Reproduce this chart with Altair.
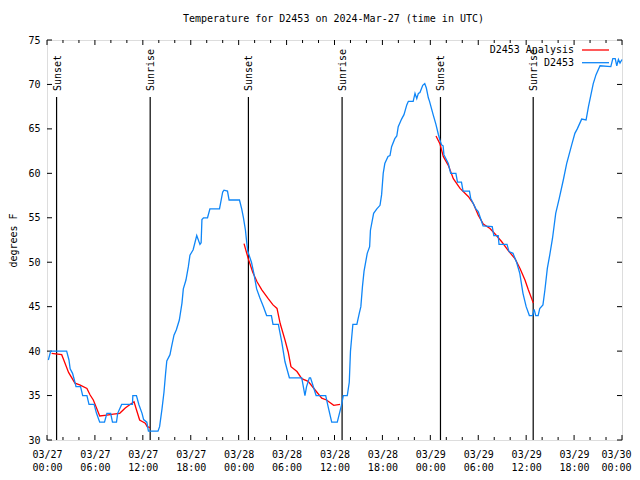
import altair as alt
import pandas as pd

BASE_MS = 1711497600000  # 2024-03-27 00:00 UTC
HOUR_MS = 3600000
FONT = "DejaVu Sans Mono"

TITLE = "Temperature for D2453 on 2024-Mar-27 (time in UTC)"

# Observations (hours since 2024-03-27 00:00 UTC, degrees F)
obs_hours = [0.17, 0.46, 2.46, 2.75, 2.9, 3.2, 3.35, 3.5, 3.63, 4.2, 4.47, 5.0, 5.26, 5.9,
             6.2, 6.6, 7.2, 7.5, 7.97, 8.2, 8.7, 8.85, 9.35, 10.7, 10.75, 11.2, 11.5, 11.9,
             12.1, 12.5, 12.7, 13.9, 14.1, 14.4, 14.65, 14.85, 15.0, 15.4, 15.6, 15.9, 16.2,
             16.57, 16.9, 17.07, 17.4, 17.7, 17.9, 18.3, 18.75, 19.15, 19.3, 19.4, 19.6, 20.1,
             20.4, 21.6, 22.0, 22.16, 22.6, 22.8, 24.1,
             24.38, 24.6, 24.85, 25.0, 25.15, 25.6, 25.9, 26.25, 26.65, 27.1, 27.5, 28.1, 28.3,
             28.97, 29.4, 29.8, 30.35, 31.9, 32.3, 32.5, 32.85, 33.0, 33.7, 34.9, 35.2, 35.65,
             36.35, 36.9, 37.1, 37.6, 37.85, 38.0, 38.15, 38.3, 38.8, 39.1, 39.3, 39.5, 39.7,
             40.1, 40.4, 40.5, 40.9, 41.3, 41.7, 41.9, 42.1, 42.3, 42.7, 42.95, 43.15, 43.55,
             43.8, 43.98, 44.4, 44.7, 45.05, 45.25, 45.85, 46.08, 46.3, 46.5, 46.7, 47.05,
             47.3, 47.5, 47.75, 47.9, 48.35, 48.7, 49.0, 49.2, 49.4, 49.6, 49.7, 50.25, 50.55,
             51.2, 51.4, 51.9, 52.1, 52.9, 53.05, 53.7, 54.0, 54.6, 55.75, 55.95, 56.5, 56.6,
             57.6, 57.85, 58.35, 58.8, 59.2, 59.6, 60.0, 60.4, 60.8, 61.0, 61.2, 61.5, 61.7,
             62.1, 62.35, 62.65, 62.95, 63.3, 63.7, 64.15, 64.65, 65.07, 65.7, 66.1, 66.4,
             66.95, 67.5, 67.8, 68.1, 68.4, 68.75, 69.25, 70.6, 70.85, 71.15, 71.35, 71.55,
             71.75, 72.0]
obs_temps = [39, 40, 40, 39, 38, 37.5, 37, 36.5, 36, 36, 35, 35, 34, 34,
             33, 32, 32, 33, 33, 32, 32, 33, 34, 34, 35, 35, 34, 33,
             32.3, 32, 31, 31, 31.5, 33.5, 35.4, 37.5, 38.9, 39.6, 40.5, 41.8, 42.4,
             43.5, 45.4, 47, 48, 49.5, 50.8, 51.4, 53, 52, 52.2, 54.8, 55, 55,
             56, 56, 57.9, 58.1, 58, 57, 57,
             56, 55, 53.6, 52.3, 51.2, 50, 48.75, 47, 46, 45, 44, 44, 43,
             43, 41, 38.8, 37, 37, 35, 36, 37, 37, 35, 35, 33.75, 32,
             32, 34, 35, 35, 36.5, 40, 41.5, 43, 43, 44.25, 45, 47.25, 49,
             51, 51.75, 53.6, 55.5, 56, 56.4, 57.6, 60, 61.1, 61.9, 62, 63, 63.9,
             64.2, 65.25, 66.1, 66.6, 67.7, 68.1, 68.1, 69, 68.4, 69, 69.1, 69.9,
             70.1, 69.6, 68.5, 68.1, 66.6, 65.5, 64.4, 63.75, 63.2, 63.1, 62.1, 61.1, 60,
             60, 59, 59, 58, 58, 57.2, 56, 55.7, 54.1, 54, 53, 53, 52,
             52, 51.2, 51, 50, 48.75, 46.5, 45, 44, 44, 44.7, 44, 44, 44.8,
             45.2, 46.9, 49.3, 50.8, 52.7, 55.5, 57.2, 59.25, 61.1, 63.2, 64.5, 65,
             66.1, 66, 67.5, 68.8, 70.1, 71.1, 72.1, 72, 72.9, 72.9, 72.1, 72.8,
             72.4, 72.8]

# Analysis (night segments)
ana_night = [1] * 22 + [2] * 20 + [3] * 19
ana_hours = [0.58, 1.84, 2.1, 2.7, 3.5, 4.1, 5.0, 5.4, 5.8, 6.2, 6.6, 7.5, 8.3, 9.1, 9.8,
             10.4, 10.9, 11.2, 11.6, 12.3, 12.55, 12.9,
             24.67, 25.2, 25.75, 26.3, 26.9, 27.7, 28.3, 28.8, 29.2, 29.8, 30.2, 30.55, 31.3,
             31.9, 32.7, 33.6, 34.4, 35.0, 35.9, 36.7,
             48.71, 49.21, 49.62, 50.25, 50.88, 51.72, 52.75, 53.38, 54.0, 54.63, 55.47,
             56.22, 56.94, 57.76, 58.6, 59.23, 59.85, 60.27, 60.9]
ana_temps = [39.75, 39.6, 39, 37.6, 36.4, 36.2, 35.8, 35.06, 34.5, 33.6, 32.7, 32.8, 32.9,
             33, 33.6, 34, 34.3, 33.4, 32.25, 31.9, 31.5, 31.4,
             52.1, 50.4, 48.9, 47.8, 46.9, 45.9, 45.2, 44.8, 43.1, 41.25, 39.9, 38.25, 37.7,
             36.9, 36.6, 35.6, 34.7, 34.5, 33.9, 34.0,
             64.2, 63.3, 61.9, 60.9, 59.4, 58.3, 57.4, 56.6, 55.3, 54.3, 53.8, 53.06, 52.3,
             51.3, 50.4, 49.3, 48.0, 46.9, 45.4]

event_hours = [1.2, 12.92, 25.22, 36.95, 49.27, 60.88]
event_labels = ["Sunset", "Sunrise", "Sunset", "Sunrise", "Sunset", "Sunrise"]

x_major_hours = list(range(0, 73, 6))
x_minor_hours = [h for h in range(0, 73, 2) if h % 6 != 0]
y_tick_values = [30, 35, 40, 45, 50, 55, 60, 65, 70, 75]

legend_labels = ["D2453 Analysis", "D2453"]
legend_colors = ["#ff0000", "#0f86f7"]


def ms(h):
    return BASE_MS + h * HOUR_MS


obs = pd.DataFrame({"t": [ms(h) for h in obs_hours], "temp": obs_temps})
ana = pd.DataFrame({"t": [ms(h) for h in ana_hours], "temp": ana_temps, "night": ana_night})
events = pd.DataFrame({"t": [ms(h) for h in event_hours], "label": event_labels})
xmaj = pd.DataFrame({"t": [ms(h) for h in x_major_hours]})
xmin = pd.DataFrame({"t": [ms(h) for h in x_minor_hours]})
yt = pd.DataFrame({"temp": y_tick_values})
title_df = pd.DataFrame({"label": [TITLE]})

W, HGT = 575, 400
xscale = alt.Scale(type="utc", domain=[ms(0), ms(72)], nice=False)
yscale = alt.Scale(domain=[30, 75], nice=False, zero=False)

last_test = f"datum.value >= {ms(71)}"
x_axis = alt.Axis(values=[ms(h) for h in x_major_hours],
                  labelExpr="[utcFormat(datum.value, '%m/%d'), utcFormat(datum.value, '%H:%M')]",
                  ticks=False, domain=False, grid=False, labelPadding=9, labelLineHeight=13,
                  labelFont=FONT, labelFontSize=10, labelColor="black", labelAngle=0,
                  labelAlign={"condition": {"test": last_test, "value": "right"}, "value": "center"},
                  labelOffset={"condition": {"test": last_test, "value": 9}, "value": 0},
                  labelOverlap=False, labelFlush=False, labelBound=False, title=None)
y_axis = alt.Axis(values=y_tick_values, ticks=False, domain=False, grid=False,
                  labelPadding=7, labelFont=FONT, labelFontSize=10, labelColor="black",
                  title="degrees F", titleFont=FONT, titleFontSize=10, titleFontWeight="normal",
                  titleColor="black", titleAngle=270, titleAlign="center", titleBaseline="top",
                  titleX=-38.5, titleY=200)


def X():
    return alt.X("t:T", scale=xscale)


def Y():
    return alt.Y("temp:Q", scale=yscale)


base_axes = alt.Chart(yt).mark_rule(color="black", strokeWidth=1).encode(
    x=alt.X("t:T", scale=xscale, axis=x_axis),
    y=alt.Y("temp:Q", scale=yscale, axis=y_axis),
).transform_calculate(t=str(ms(0))).transform_filter("false")

title_layer = alt.Chart(title_df).mark_text(align="center", baseline="middle", font=FONT,
                                            fontSize=10, color="black").encode(
    text="label:N", x=alt.value(W / 2 - 1), y=alt.value(-21))

ytick_left = alt.Chart(yt).mark_rule(color="black").encode(
    y=Y(), x=alt.value(0), x2=alt.value(5))
ytick_right = alt.Chart(yt).mark_rule(color="black").encode(
    y=Y(), x=alt.value(W), x2=alt.value(W - 5))
xmaj_bot = alt.Chart(xmaj).mark_rule(color="black").encode(
    x=X(), y=alt.value(HGT), y2=alt.value(HGT - 5))
xmaj_top = alt.Chart(xmaj).mark_rule(color="black").encode(
    x=X(), y=alt.value(0), y2=alt.value(5))
xmin_bot = alt.Chart(xmin).mark_rule(color="black").encode(
    x=X(), y=alt.value(HGT), y2=alt.value(HGT - 3))
xmin_top = alt.Chart(xmin).mark_rule(color="black").encode(
    x=X(), y=alt.value(0), y2=alt.value(3))

ev_rules = alt.Chart(events).mark_rule(color="black", strokeWidth=1.2).encode(
    x=X(), y=alt.value(57), y2=alt.value(HGT))
ev_text = alt.Chart(events).mark_text(angle=270, align="left", baseline="middle", dy=1,
                                      font=FONT, fontSize=10, color="black").encode(
    x=X(), y=alt.value(51), text="label:N")

ana_line = alt.Chart(ana).mark_line(color=legend_colors[0], strokeWidth=1.3).encode(
    x=X(), y=Y(), detail="night:N", order="t:T")
obs_line = alt.Chart(obs).mark_line(color=legend_colors[1], strokeWidth=1.3).encode(
    x=X(), y=Y(), order="t:T")

legend_layers = []
for i, (lab, col) in enumerate(zip(legend_labels, legend_colors)):
    d = pd.DataFrame({"label": [lab]})
    ypix = 10 + i * 12.7
    legend_layers.append(alt.Chart(d).mark_text(align="right", baseline="middle", font=FONT,
                                                fontSize=10, color="black").encode(
        text="label:N", x=alt.value(527), y=alt.value(ypix)))
    legend_layers.append(alt.Chart(d).mark_rule(color=col, strokeWidth=1.3).encode(
        x=alt.value(535), x2=alt.value(562), y=alt.value(ypix)))

chart = alt.layer(
    base_axes, title_layer, ytick_left, ytick_right, xmaj_bot, xmaj_top, xmin_bot, xmin_top,
    ev_rules, ev_text, ana_line, obs_line, *legend_layers
).properties(
    width=W, height=HGT,
    autosize=alt.AutoSizeParams(type="none"),
    padding={"left": 39, "top": 32, "right": 10, "bottom": 32},
).configure_view(stroke="black", strokeWidth=1).configure(background="white")

chart.save("out.html", embed_options={"renderer": "svg", "actions": False})
